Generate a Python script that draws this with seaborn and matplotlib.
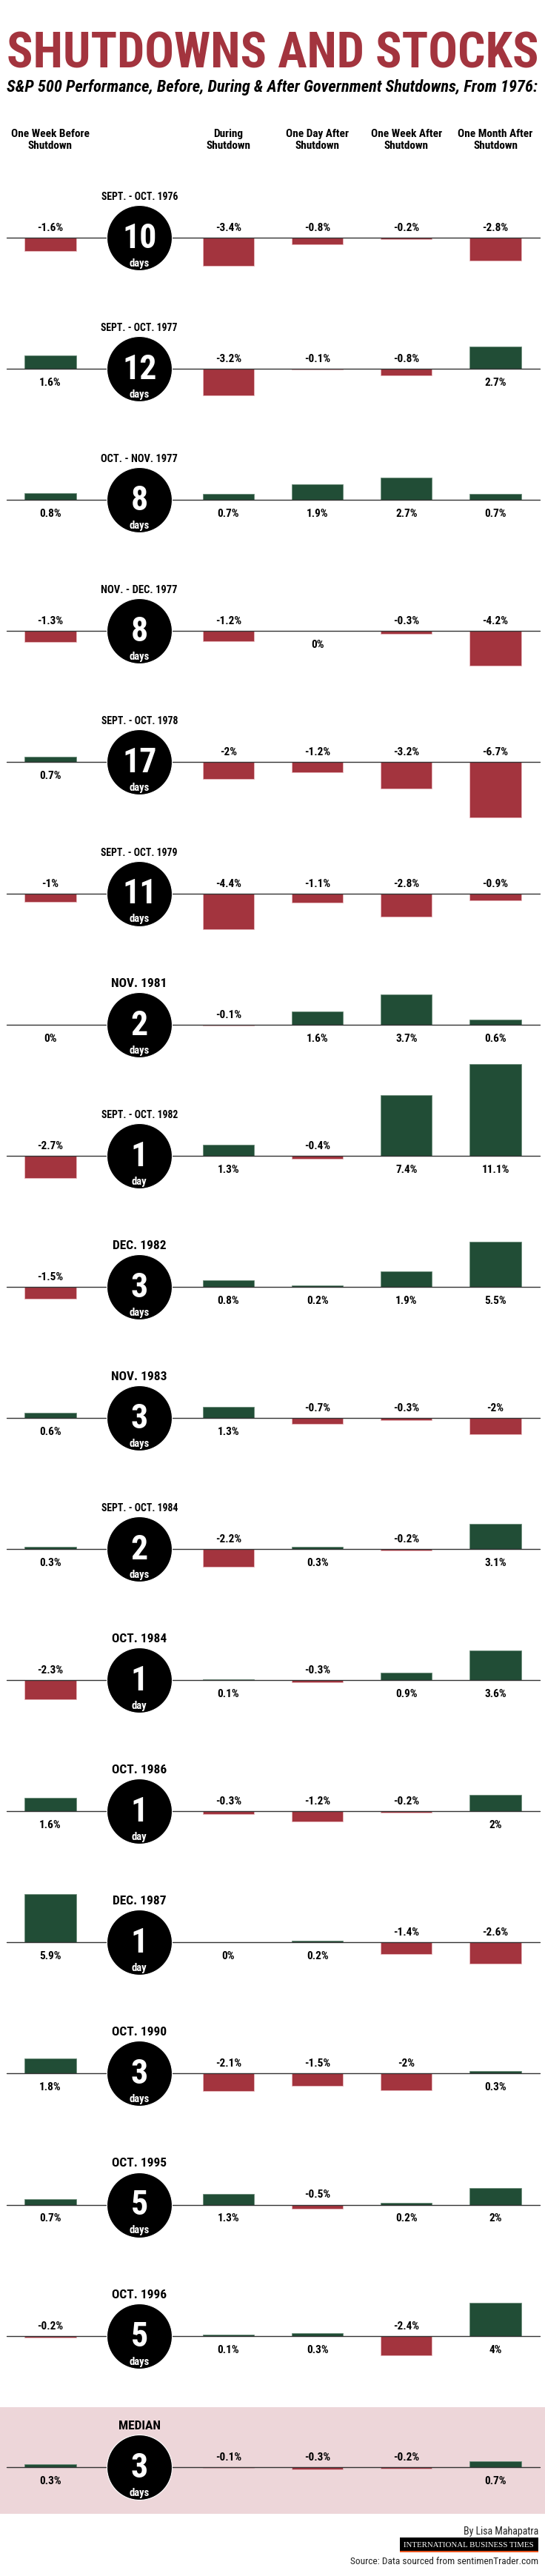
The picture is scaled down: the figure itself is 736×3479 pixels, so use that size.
import numpy as np
import pandas as pd
import matplotlib
matplotlib.use("Agg")
import matplotlib.pyplot as plt
import matplotlib.font_manager as fm
import matplotlib.transforms as mtransforms
from matplotlib.patches import Rectangle
import seaborn as sns

periods = ['SEPT. - OCT. 1976', 'SEPT. - OCT. 1977', 'OCT. - NOV. 1977',
           'NOV. - DEC. 1977', 'SEPT. - OCT. 1978', 'SEPT. - OCT. 1979',
           'NOV. 1981', 'SEPT. - OCT. 1982', 'DEC. 1982', 'NOV. 1983',
           'SEPT. - OCT. 1984', 'OCT. 1984', 'OCT. 1986', 'DEC. 1987',
           'OCT. 1990', 'OCT. 1995', 'OCT. 1996', 'MEDIAN']
durations = [10, 12, 8, 8, 17, 11, 2, 1, 3, 3, 2, 1, 1, 1, 3, 5, 5, 3]

week_before = [-1.6, 1.6, 0.8, -1.3, 0.7, -1, 0, -2.7, -1.5, 0.6, 0.3, -2.3,
               1.6, 5.9, 1.8, 0.7, -0.2, 0.3]
during = [-3.4, -3.2, 0.7, -1.2, -2, -4.4, -0.1, 1.3, 0.8, 1.3, -2.2, 0.1,
          -0.3, 0, -2.1, 1.3, 0.1, -0.1]
day_after = [-0.8, -0.1, 1.9, 0, -1.2, -1.1, 1.6, -0.4, 0.2, -0.7, 0.3, -0.3,
             -1.2, 0.2, -1.5, -0.5, 0.3, -0.3]
week_after = [-0.2, -0.8, 2.7, -0.3, -3.2, -2.8, 3.7, 7.4, 1.9, -0.3, -0.2,
              0.9, -0.2, -1.4, -2, 0.2, -2.4, -0.2]
month_after = [-2.8, 2.7, 0.7, -4.2, -6.7, -0.9, 0.6, 11.1, 5.5, -2, 3.1, 3.6,
               2, -2.6, 0.3, 2, 4, 0.7]

headers = ['One Week Before\nShutdown', 'During\nShutdown',
           'One Day After\nShutdown', 'One Week After\nShutdown',
           'One Month After\nShutdown']
slots = [0, 2, 3, 4, 5]   # slot 1 holds the duration circle

title = 'SHUTDOWNS AND STOCKS'
subtitle = 'S&P 500 Performance, Before, During & After Government Shutdowns, From 1976:'

RED = '#A3343E'
GREEN = '#214D36'
PINK = '#EDD6D9'

sns.set_theme(style='white')
plt.rcParams['font.family'] = ['DejaVu Sans']


def find_font(weight=700, italic=False):
    # look for a condensed face, the original uses a condensed sans
    pref = ['Roboto Condensed', 'Open Sans Condensed', 'Liberation Sans Narrow',
            'DejaVu Sans Condensed', 'Noto Sans']
    best, best_score = None, None
    for f in fm.fontManager.ttflist:
        base = f.fname.split('/')[-1]
        narrow = ('condensed' in str(f.stretch) or 'Cond' in f.name
                  or 'Narrow' in f.name or 'Cond' in base or 'Narrow' in base)
        if not narrow:
            continue
        w = f.weight if isinstance(f.weight, (int, float)) else fm.weight_dict.get(f.weight, 400)
        is_it = f.style in ('italic', 'oblique')
        rank = next((i for i, p in enumerate(pref) if f.name.startswith(p)), len(pref))
        score = rank * 1000 + abs(w - weight) + (500 if is_it != italic else 0)
        if best_score is None or score < best_score:
            best, best_score = f, score
    if best is None:
        return fm.FontProperties(family='DejaVu Sans', weight=weight,
                                 style='italic' if italic else 'normal')
    return fm.FontProperties(fname=best.fname)


F_BOLD = find_font(700)
F_BOLD_IT = find_font(700, italic=True)
F_REG = find_font(400)
F_SERIF = fm.FontProperties(family=['Liberation Serif', 'DejaVu Serif'])


def fp(base, size):
    p = base.copy()
    p.set_size(size)
    return p


W, H = 736, 3480
fig = plt.figure(figsize=(W / 100, H / 100), dpi=100)
fig.patch.set_facecolor('white')
renderer = fig.canvas.get_renderer()


def fy(px):
    return 1 - px / H


def fit_width(t, target, shrink_only=False):
    w = t.get_window_extent(renderer).width
    if shrink_only and w <= target:
        return
    t.set_fontsize(t.get_fontsize() * target / w)


# layout (pixels)
first_base = 322
row_gap = 177.1
px_per_pct = 11.1
above, below = 135, 85
col0_px, col_step = 68, 120.2

# title block
t = fig.text(9 / W, fy(92), title, fontproperties=fp(F_BOLD, 60), color=RED,
             ha='left', va='baseline')
fit_width(t, 719)
t = fig.text(9 / W, fy(124), subtitle, fontproperties=fp(F_BOLD_IT, 14),
             color='black', ha='left', va='baseline')
fit_width(t, 720)

axes = []
for k in range(len(periods)):
    base = first_base + row_gap * k
    ax = fig.add_axes([0, fy(base + below), 1, (above + below) / H])
    vals = [week_before[k], during[k], day_after[k], week_after[k], month_after[k]]
    df = pd.DataFrame({'slot': slots, 'value': vals})
    df['sign'] = np.where(df['value'] < 0, 'down', 'up')

    if periods[k] == 'MEDIAN':
        ax.axhspan(-63 / px_per_pct, 81 / px_per_pct, color=PINK, zorder=0, lw=0)

    sns.barplot(data=df, x='slot', y='value', hue='sign',
                palette={'up': GREEN, 'down': RED}, native_scale=True,
                width=0.575, dodge=False, legend=False, errorbar=None,
                saturation=1, ax=ax, zorder=2)
    for c in ax.containers:
        for b in c:
            b.set_edgecolor('#E8B9BE' if b.get_height() < 0 else '#6E8F7C')
            b.set_linewidth(0.6)

    ax.axhline(0, xmin=9 / W, xmax=729 / W, color='#333333', lw=1.0, zorder=3)
    ax.scatter([1], [0], s=(88 * 0.72) ** 2, color='black', edgecolors='white',
               linewidths=0.8, zorder=4)

    ax.annotate(str(durations[k]), (1, 0), xytext=(0, -13), textcoords='offset pixels',
                ha='center', va='baseline', color='white',
                fontproperties=fp(F_BOLD, 33), zorder=5)
    ax.annotate('day' if durations[k] == 1 else 'days', (1, 0), xytext=(0, -38),
                textcoords='offset pixels', ha='center', va='baseline',
                color='white', fontproperties=fp(F_BOLD, 10.5), zorder=5)
    lab = ax.annotate(periods[k], (1, 0), xytext=(0, 52), textcoords='offset pixels',
                      ha='center', va='baseline', color='black',
                      fontproperties=fp(F_BOLD, 12.5), zorder=5)
    fit_width(lab, 104, shrink_only=True)

    for s, v in zip(slots, vals):
        off = 10 if v < 0 else -22
        ax.annotate(f'{v:g}%', (s, 0), xytext=(0, off), textcoords='offset pixels',
                    ha='center', va='baseline', color='black',
                    fontproperties=fp(F_BOLD, 11), zorder=5)

    ax.set_xlim(-col0_px / col_step, (W - col0_px) / col_step)
    ax.set_ylim(-below / px_per_pct, above / px_per_pct)
    ax.axis('off')
    axes.append(ax)

# column headers, placed on the first row's x scale
trans = mtransforms.blended_transform_factory(axes[0].transData, fig.transFigure)
for s, h in zip(slots, headers):
    fig.text(s, fy(189), h, transform=trans, ha='center', va='center',
             multialignment='center', linespacing=1.25,
             fontproperties=fp(F_BOLD, 11), color='black')

# footer
fig.text(727 / W, fy(3423), 'By Lisa Mahapatra', ha='right', va='baseline',
         fontproperties=fp(F_REG, 10), color='#222222')
fig.patches.append(Rectangle((540 / W, fy(3448)), 187 / W, 20 / H,
                             transform=fig.transFigure, facecolor='black',
                             edgecolor='none', zorder=1))
fig.patches.append(Rectangle((540 / W, fy(3448)), 187 / W, 1.6 / H,
                             transform=fig.transFigure, facecolor='#E8541E',
                             edgecolor='none', zorder=2))
t = fig.text(633 / W, fy(3438), 'INTERNATIONAL BUSINESS TIMES', ha='center',
             va='center', fontproperties=fp(F_SERIF, 9), color='white', zorder=3)
fit_width(t, 176)
t = fig.text(727 / W, fy(3463), 'Source: Data sourced from sentimenTrader.com',
             ha='right', va='baseline', fontproperties=fp(F_REG, 10), color='#222222')
fit_width(t, 253)

fig.savefig('out.png', dpi=100, facecolor='white')
